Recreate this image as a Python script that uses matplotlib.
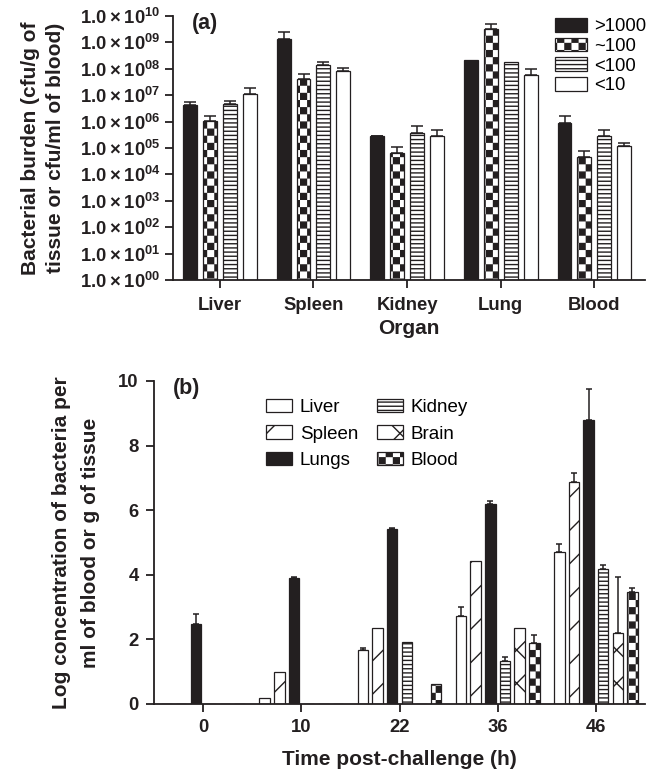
import numpy as np
import matplotlib
matplotlib.use("Agg")
import matplotlib.pyplot as plt
import matplotlib.hatch as mhatch
from matplotlib.path import Path
from matplotlib.ticker import FixedLocator, FixedFormatter

plt.rcParams['font.family'] = ['Liberation Sans', 'DejaVu Sans']
plt.rcParams['mathtext.fontset'] = 'custom'
plt.rcParams['mathtext.rm'] = 'Liberation Sans'
plt.rcParams['mathtext.bf'] = 'Liberation Sans:bold'
plt.rcParams['mathtext.default'] = 'bf'
plt.rcParams['hatch.linewidth'] = 1.0

INK = '#231f20'


# checkerboard hatch, hooked onto the '.' character
class CheckerHatch(mhatch.HatchPatternBase):
    n = 14

    def __init__(self, hatch, density):
        self.on = '.' in hatch
        self.num_vertices = (self.n * self.n // 2) * 5 if self.on else 0

    def set_vertices_and_codes(self, vertices, codes):
        s = 1.0 / self.n
        m = 0.0065  # compensate for hatch stroke
        k = 0
        for i in range(self.n):
            for j in range(self.n):
                if (i + j) % 2:
                    continue
                x0, y0 = i * s + m, j * s + m
                x1, y1 = (i + 1) * s - m, (j + 1) * s - m
                vertices[k:k + 5] = [(x0, y0), (x1, y0), (x1, y1), (x0, y1), (x0, y0)]
                codes[k:k + 5] = [Path.MOVETO, Path.LINETO, Path.LINETO,
                                  Path.LINETO, Path.CLOSEPOLY]
                k += 5


mhatch._hatch_types = [CheckerHatch if t is mhatch.SmallFilledCircles else t
                       for t in mhatch._hatch_types]

# ---------------- panel (a) data ----------------
organs = ['Liver', 'Spleen', 'Kidney', 'Lung', 'Blood']
dose_labels = ['>1000', '~100', '<100', '<10']
gt1000 = [4.2e6, 1.35e9, 2.75e5, 2.1e8, 8.5e5]
gt1000_err = [1.3e6, 1.05e9, 1.5e4, 0, 7.5e5]
approx100 = [1.1e6, 4.0e7, 6.6e4, 3.2e9, 4.4e4]
approx100_err = [5.0e5, 2.6e7, 4.1e4, 1.8e9, 3.2e4]
lt100 = [4.7e6, 1.45e8, 3.6e5, 1.74e8, 2.9e5]
lt100_err = [1.3e6, 2.9e7, 3.0e5, 0, 2.0e5]
lt10 = [1.12e7, 8.3e7, 2.9e5, 5.8e7, 1.23e5]
lt10_err = [7.4e6, 2.9e7, 2.0e5, 4.4e7, 2.7e4]

# ---------------- panel (b) data ----------------
times = ['0', '10', '22', '36', '46']
tissues = ['Liver', 'Spleen', 'Lungs', 'Kidney', 'Brain', 'Blood']
liver = [0, 0.2, 1.67, 2.72, 4.70]
liver_err = [0, 0, 0.05, 0.29, 0.25]
spleen = [0, 1.0, 2.35, 4.43, 6.88]
spleen_err = [0, 0, 0, 0, 0.27]
lungs = [2.47, 3.90, 5.42, 6.19, 8.79]
lungs_err = [0.32, 0.02, 0.02, 0.11, 0.97]
kidney = [0, 0, 1.93, 1.34, 4.18]
kidney_err = [0, 0, 0, 0.12, 0.11]
brain = [0, 0, 0, 2.36, 2.21]
brain_err = [0, 0, 0, 0, 1.72]
blood = [0, 0, 0.61, 1.88, 3.46]
blood_err = [0, 0, 0, 0.27, 0.13]


def style_axes(ax):
    for side in ['top', 'right']:
        ax.spines[side].set_visible(False)
    for side in ['left', 'bottom']:
        ax.spines[side].set_linewidth(1.3)
        ax.spines[side].set_color(INK)
    ax.tick_params(direction='out', length=6, width=1.3, color=INK,
                   labelsize=13.3, labelcolor=INK)
    for lab in ax.get_xticklabels() + ax.get_yticklabels():
        lab.set_fontweight('bold')


def draw_bars(ax, x, vals, errs, width, face, hatch, label, capsize):
    bars = ax.bar(x, vals, width, color=face, edgecolor=INK, linewidth=0.9,
                  hatch=hatch, label=label, zorder=2)
    vals = np.asarray(vals, float)
    errs = np.asarray(errs, float)
    keep = errs > 0
    if keep.any():
        ax.errorbar(np.asarray(x)[keep], vals[keep],
                    yerr=[np.zeros(keep.sum()), errs[keep]], fmt='none',
                    ecolor=INK, elinewidth=1.1, capsize=capsize, capthick=1.1,
                    zorder=3)
    return bars


fig = plt.figure(figsize=(6.56, 7.69), dpi=100)

# ---------------- (a) ----------------
ax1 = fig.add_axes([173 / 656, 1 - 280 / 769, (645 - 173) / 656, (280 - 16) / 769])
xa = np.arange(len(organs))
series_a = [(gt1000, gt1000_err, INK, None),
            (approx100, approx100_err, 'white', '.'),
            (lt100, lt100_err, 'white', '----'),
            (lt10, lt10_err, 'white', None)]
pitch_a, width_a = 0.213, 0.149
handles_a = []
for i, (v, e, fc, h) in enumerate(series_a):
    b = draw_bars(ax1, xa + (i - 1.5) * pitch_a, v, e, width_a, fc, h,
                  dose_labels[i], 4)
    handles_a.append(b)
ax1.set_yscale('log')
ax1.set_ylim(1, 1e10)
ax1.set_xlim(-0.5, 4.54)
decades = np.arange(0, 11)
ax1.yaxis.set_major_locator(FixedLocator(10.0 ** decades))
ax1.yaxis.set_major_formatter(FixedFormatter(
    [r'$1.0\times10^{%02d}$' % d for d in decades]))
ax1.yaxis.set_minor_locator(FixedLocator([]))
ax1.set_xticks(xa)
ax1.set_xticklabels(organs)
style_axes(ax1)
ax1.tick_params(axis='y', pad=3)
ax1.tick_params(axis='x', pad=6)
ax1.set_xlabel('Organ', fontsize=15, fontweight='bold', color=INK, labelpad=4)
ax1.set_ylabel('Bacterial burden (cfu/g of\ntissue or cfu/ml of blood)',
               fontsize=15, fontweight='bold', color=INK, linespacing=1.45)
ax1.yaxis.set_label_coords(-0.228, 0.5)
fig.text(192 / 656, 1 - 24 / 769, '(a)', fontsize=15.5, fontweight='bold',
         color=INK, ha='left', va='center')
fig.legend(handles_a, dose_labels, loc='upper left',
           bbox_to_anchor=(555 / 656, 1 - 18 / 769), frameon=False,
           fontsize=13.3, handlelength=1.75, handleheight=0.78,
           handletextpad=0.35, labelspacing=0.12, borderpad=0,
           borderaxespad=0)

# ---------------- (b) ----------------
ax2 = fig.add_axes([154 / 656, 1 - 704 / 769, (645 - 154) / 656, (704 - 381) / 769])
xb = np.arange(len(times))
series_b = [(liver, liver_err, 'white', None),
            (spleen, spleen_err, 'white', '/'),
            (lungs, lungs_err, INK, None),
            (kidney, kidney_err, 'white', '----'),
            (brain, brain_err, 'white', 'x'),
            (blood, blood_err, 'white', '.')]
pitch_b, width_b = 0.149, 0.107
handles_b = []
for i, (v, e, fc, h) in enumerate(series_b):
    b = draw_bars(ax2, xb + (i - 2.5) * pitch_b, v, e, width_b, fc, h,
                  tissues[i], 2.5)
    handles_b.append(b)
ax2.set_ylim(0, 10)
ax2.set_xlim(-0.5, 4.5)
ax2.set_yticks([0, 2, 4, 6, 8, 10])
ax2.set_xticks(xb)
ax2.set_xticklabels(times)
style_axes(ax2)
ax2.tick_params(axis='y', pad=5)
ax2.tick_params(axis='x', pad=5)
ax2.set_xlabel('Time post-challenge (h)', fontsize=15, fontweight='bold',
               color=INK, labelpad=10)
ax2.set_ylabel('Log concentration of bacteria per\nml of blood or g of tissue',
               fontsize=15, fontweight='bold', color=INK, linespacing=1.65)
ax2.yaxis.set_label_coords(-0.11, 0.5)
fig.text(173 / 656, 1 - 389 / 769, '(b)', fontsize=15.5, fontweight='bold',
         color=INK, ha='left', va='center')
fig.legend(handles_b, tissues, loc='upper left', ncol=2,
           bbox_to_anchor=(266 / 656, 1 - 399 / 769), frameon=False,
           fontsize=13.5, handlelength=1.4, handleheight=0.7,
           handletextpad=0.4, labelspacing=0.5, columnspacing=1.0,
           borderpad=0, borderaxespad=0)

fig.savefig('out.png', dpi=100)
